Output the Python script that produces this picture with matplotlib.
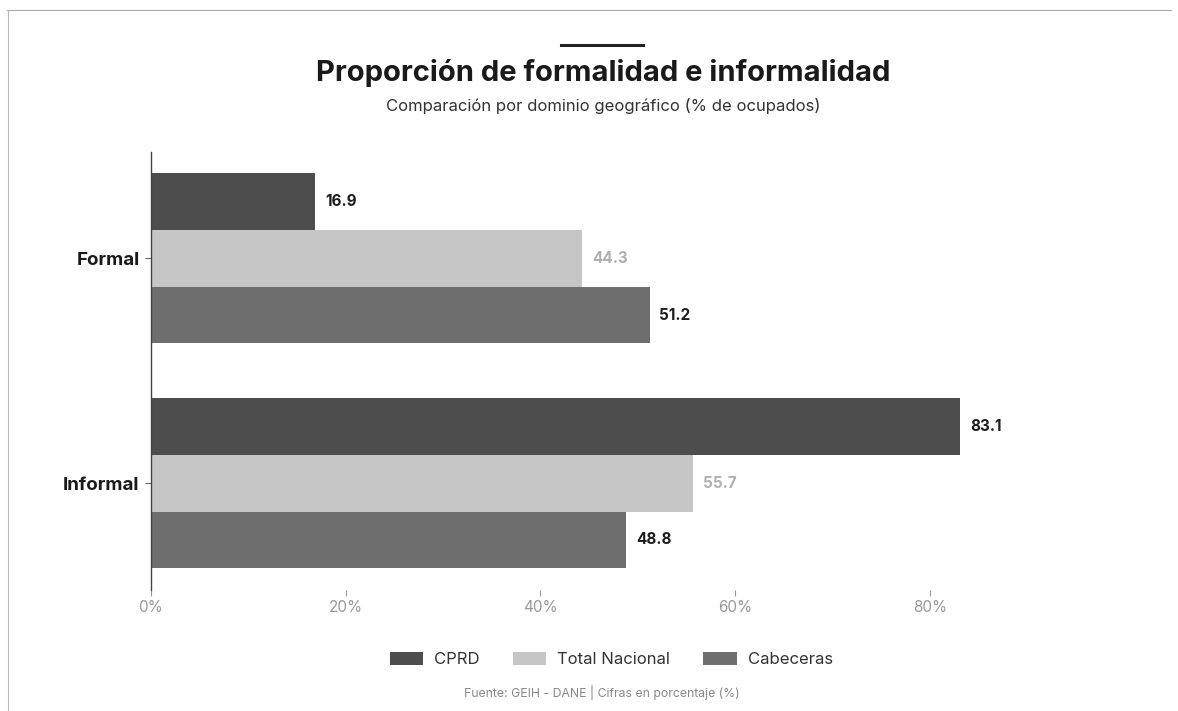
import numpy as np
import matplotlib
matplotlib.use('Agg')
import matplotlib.pyplot as plt
from matplotlib.ticker import FuncFormatter

plt.rcParams['font.family'] = ['Inter', 'DejaVu Sans']

categorias = ['Formal', 'Informal']
series = ['CPRD', 'Total Nacional', 'Cabeceras']
cprd = [16.9, 83.1]
total_nacional = [44.3, 55.7]
cabeceras = [51.2, 48.8]
x_ticks = [0, 20, 40, 60, 80]

colores = ['#4d4d4d', '#c6c6c6', '#6e6e6e']
colores_texto = ['#1e1e1e', '#b0b0b0', '#1e1e1e']

fig = plt.figure(figsize=(11.78, 7.11), dpi=100)
ax = fig.add_axes([0.128, 0.17, 0.827, 0.616])

valores = [cprd, total_nacional, cabeceras]
y = np.arange(len(categorias))
h = 0.253
for i, (nombre, vals) in enumerate(zip(series, valores)):
    pos = y + (i - 1) * h
    ax.barh(pos, vals, height=h, color=colores[i], label=nombre)
    for p, v in zip(pos, vals):
        ax.text(v + 1.0, p, f'{v:.1f}', va='center', ha='left', fontsize=11,
                fontweight='bold', color=colores_texto[i])

ax.set_xlim(0, 100)
ax.set_ylim(1.476, -0.471)
ax.set_yticks(y)
ax.set_yticklabels(categorias, fontsize=13.5, fontweight='bold', color='#1a1a1a')
ax.set_xticks(x_ticks)
ax.xaxis.set_major_formatter(FuncFormatter(lambda v, _: f'{v:.0f}%'))
ax.tick_params(axis='x', colors='#999999', labelsize=11, length=4, width=0.8, pad=3)
ax.tick_params(axis='y', length=4, width=0.8, color='#666666', pad=4)
for s in ['top', 'right', 'bottom']:
    ax.spines[s].set_visible(False)
ax.spines['left'].set_color('#444444')
ax.spines['left'].set_linewidth(1.0)

# titulo
fig.text(0.512, 0.898, 'Proporción de formalidad e informalidad', ha='center', va='center',
         fontsize=21, fontweight='bold', color='#1a1a1a')
fig.text(0.512, 0.851, 'Comparación por dominio geográfico (% de ocupados)', ha='center',
         va='center', fontsize=12, color='#333333')
fig.add_artist(plt.Line2D([0.476, 0.546], [0.937, 0.937], color='#222222', lw=2.2))

leg = fig.legend(loc='center', bbox_to_anchor=(0.519, 0.072), ncol=3, frameon=False,
                 fontsize=12, handlelength=2.0, handleheight=0.8, columnspacing=2.0,
                 handletextpad=0.65)
for t in leg.get_texts():
    t.set_color('#333333')

fig.text(0.511, 0.026, 'Fuente: GEIH - DANE | Cifras en porcentaje (%)', ha='center',
         va='center', fontsize=8.8, color='#888888')

# marco de la hoja
fig.add_artist(plt.Line2D([0.006, 0.994], [0.986, 0.986], color='#aaaaaa', lw=0.8))
fig.add_artist(plt.Line2D([0.007, 0.007], [0.0, 0.986], color='#bbbbbb', lw=0.8))

fig.savefig('out.png', dpi=100)
